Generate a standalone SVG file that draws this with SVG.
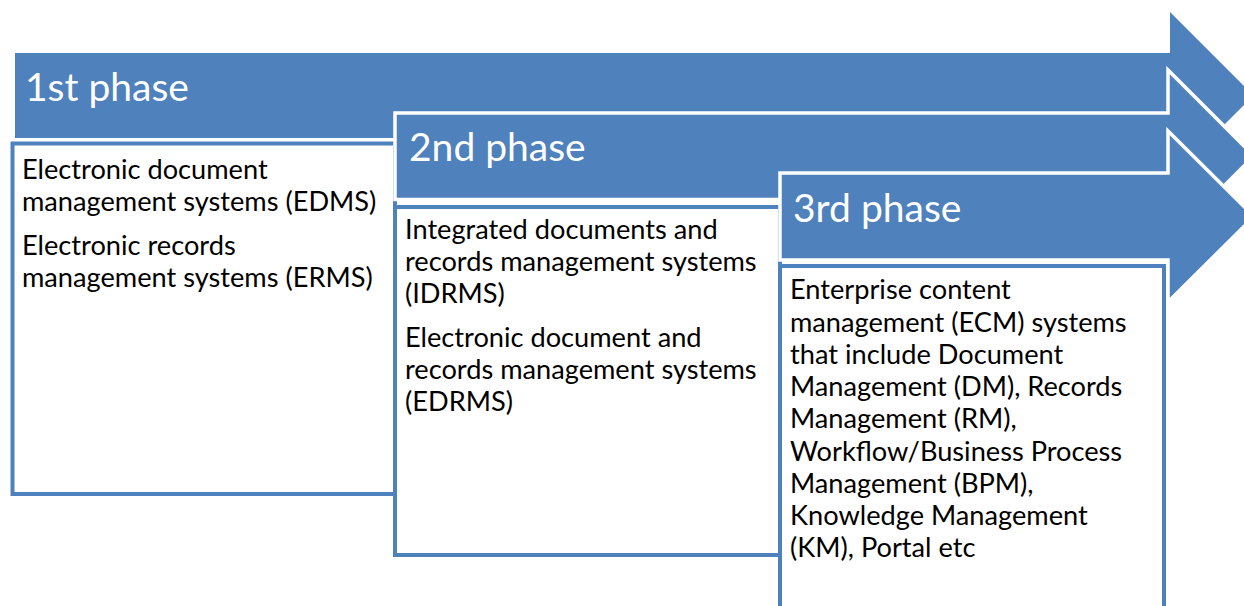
<svg xmlns="http://www.w3.org/2000/svg" width="1244" height="606" viewBox="0 0 1244 606">
<style>
.arrow{fill:#4F81BD;stroke:#FFFFFF;stroke-width:3.5;stroke-linejoin:miter}
.arrow1{fill:#4F81BD;stroke:none}
.box{fill:#FFFFFF;stroke:#4F81BD;stroke-width:4}
.title{font-family:Lato,"Liberation Sans",sans-serif;font-size:39px;fill:#FFFFFF}
.body{font-family:Lato,"Liberation Sans",sans-serif;font-size:27.2px;fill:#000000}
</style>
<rect width="1244" height="606" fill="#FFFFFF"/>
<g id="phase1">
<path class="arrow1" d="M15,53 H1170 V12 L1253.5,95.5 L1170,179 V138 H15 Z"/>
<rect class="box" x="12.5" y="143.5" width="382.5" height="350.5"/>
<text class="title" x="25" y="101">1st phase</text>
<text class="body"><tspan x="22" y="179">Electronic document</tspan><tspan x="22" y="211">management systems (EDMS)</tspan><tspan x="22" y="255">Electronic records</tspan><tspan x="22" y="287">management systems (ERMS)</tspan></text>
</g>
<g id="phase2">
<path class="arrow" d="M395,113 H1168 V70 L1254,156 L1168,242 V199.5 H395 Z"/>
<rect class="box" x="395" y="207" width="385" height="348"/>
<text class="title" x="409" y="161">2nd phase</text>
<text class="body"><tspan x="405" y="239">Integrated documents and</tspan><tspan x="405" y="271">records management systems</tspan><tspan x="405" y="303">(IDRMS)</tspan><tspan x="405" y="347">Electronic document and</tspan><tspan x="405" y="379">records management systems</tspan><tspan x="405" y="411">(EDRMS)</tspan></text>
</g>
<g id="phase3">
<path class="arrow" d="M780,173 H1168 V131 L1254,216.5 L1168,302 V260 H780 Z"/>
<rect class="box" x="780" y="266" width="384" height="360"/>
<text class="title" x="793" y="222">3rd phase</text>
<text class="body"><tspan x="790" y="299">Enterprise content</tspan><tspan x="790" y="332">management (ECM) systems</tspan><tspan x="790" y="364">that include Document</tspan><tspan x="790" y="396">Management (DM), Records</tspan><tspan x="790" y="428">Management (RM),</tspan><tspan x="790" y="461">Workflow/Business Process</tspan><tspan x="790" y="493">Management (BPM),</tspan><tspan x="790" y="525">Knowledge Management</tspan><tspan x="790" y="557">(KM), Portal etc</tspan></text>
</g>
<g id="connectors"/>
</svg>
